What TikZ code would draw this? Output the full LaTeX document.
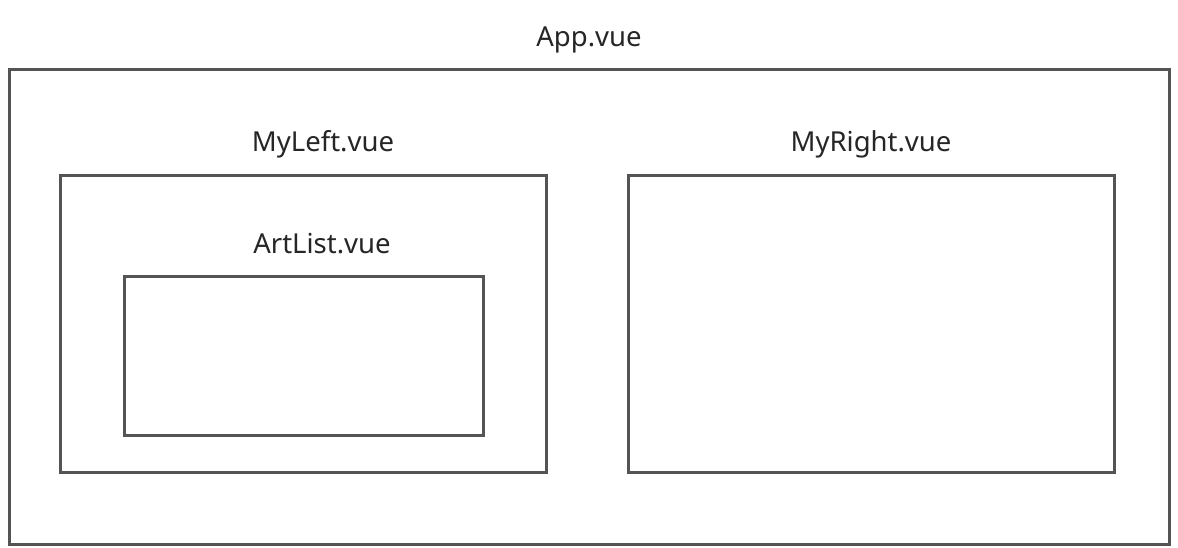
\documentclass[tikz,border=0pt]{standalone}
\usepackage{fontspec}
\setmainfont{Noto Sans}
\begin{document}
\begin{tikzpicture}[x=1pt,y=-1pt,
  box/.style={draw=black!67, line width=3pt, fill=none},
  lbl/.style={font=\fontsize{27.5}{32}\selectfont, text=black!85, inner sep=0pt, anchor=center}]
\useasboundingbox[fill=white] (0,0) rectangle (1178,548);
\draw[box] (9,70) rectangle (1169,544);
\draw[box] (60,176) rectangle (546,472);
\draw[box] (124,276) rectangle (483,435);
\draw[box] (628,176) rectangle (1114,472);
\node[lbl] (app) at (589,39.5) {App.vue};
\node[lbl] (left) at (323,144) {MyLeft.vue};
\node[lbl] (art) at (322,244) {ArtList.vue};
\node[lbl] (right) at (871,144) {MyRight.vue};
\end{tikzpicture}
\end{document}
